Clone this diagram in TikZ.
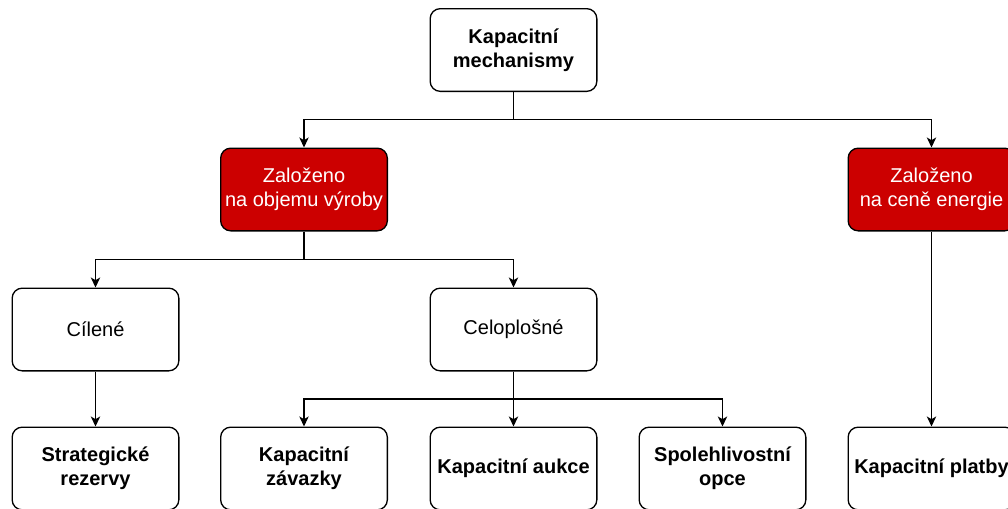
\documentclass[tikz,border=0pt]{standalone}
\usepackage{fontspec}
\setmainfont{Liberation Sans}
\usetikzlibrary{arrows.meta,calc}
\definecolor{mechred}{HTML}{CC0000}
\tikzset{
  box/.style = {align=center, inner sep=2pt, text centered, rectangle, rounded corners=7.5pt,
    draw=black, line width=1pt, minimum width=125pt, minimum height=62pt,
    font=\fontsize{15}{18}\selectfont},
  bbox/.style = {box, font=\fontsize{15}{18}\selectfont\bfseries},
  rbox/.style = {box, fill=mechred, text=white},
  link/.style = {draw=black, line width=1pt, -{Stealth[length=7.5pt, width=7pt, inset=2pt]}},
}

\begin{document}
\begin{tikzpicture}[x=0.75pt, y=-0.75pt]
\useasboundingbox (0,0) rectangle (1008,508);
\node [bbox] (KM) at (513.5,50) {Kapacitní\\mechanismy};

\node [rbox] (OV) at (304,189.5) {Založeno\\na objemu výroby};
\node [rbox] (CE) at (931.5,189.5) {Založeno\\na ceně energie};

\node [box] (CI) at (95.5,329.5) {Cílené};
\node [box] (CP) at (513.5,329.5) {Celoplošné};

\node [bbox] (SR) at (95.5,468.5) {Strategické\\rezervy};
\node [bbox] (KZ) at (304,468.5) {Kapacitní\\závazky};
\node [bbox] (KA) at (513.5,468.5) {Kapacitní aukce};
\node [bbox] (SO) at (722.5,468.5) {Spolehlivostní\\opce};
\node [bbox] (KP) at (931.5,468.5) {Kapacitní platby};

% forks
\draw [link] (KM.south) |- ($(KM.south)!.5!(OV.north)$) -| (OV.north);
\draw [link] (KM.south) |- ($(KM.south)!.5!(CE.north)$) -| (CE.north);
\draw [link] (OV.south) |- ($(OV.south)!.5!(CI.north)$) -| (CI.north);
\draw [link] (OV.south) |- ($(OV.south)!.5!(CP.north)$) -| (CP.north);
\draw [link] (CP.south) |- ($(CP.south)!.5!(KZ.north)$) -| (KZ.north);
\draw [link] (CP.south) |- ($(CP.south)!.5!(SO.north)$) -| (SO.north);

% straight
\draw [link] (CI) -- (SR);
\draw [link] (CP) -- (KA);
\draw [link] (CE) -- (KP);
\end{tikzpicture}
\end{document}
